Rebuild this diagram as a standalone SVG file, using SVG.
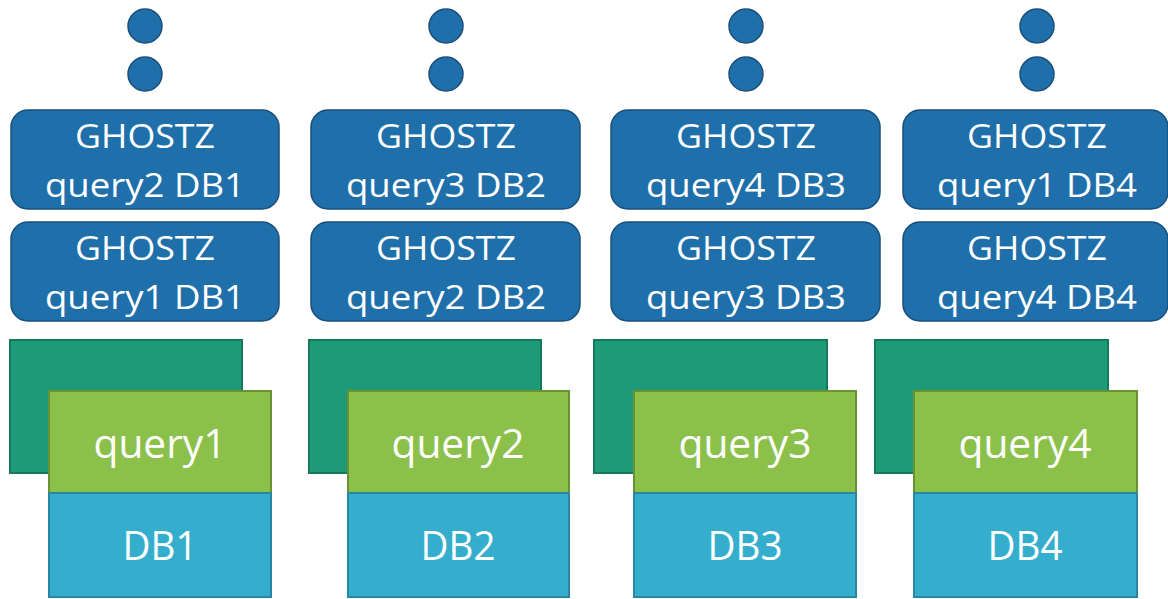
<svg xmlns="http://www.w3.org/2000/svg" width="1168" height="599" viewBox="0 0 1168 599">
<style>
.dot{fill:#1f6faa;stroke:#1b4f7b;stroke-width:1.5}
.gb{fill:#1f6faa;stroke:#1b4f7b;stroke-width:1.5}
.dg{fill:#1e9a78;stroke:#147a5b;stroke-width:2}
.lg{fill:#8bc14a;stroke:#6a9232;stroke-width:2}
.db{fill:#35aecd;stroke:#2a87a2;stroke-width:2}
text{font-family:"Open Sans","Noto Sans",sans-serif;fill:#ffffff;text-anchor:middle}
.t1{font-size:32px}
.t2{font-size:41px}
.t3{font-size:40px}
</style>
<rect width="1168" height="599" fill="#ffffff"/>
<g id="col1">
<circle class="dot" cx="145" cy="26" r="17"/>
<circle class="dot" cx="145" cy="74" r="17"/>
<g id="g1a"><rect class="gb" x="11" y="110" width="268" height="99" rx="17"/>
<text class="t1" x="145" y="148" textLength="140" lengthAdjust="spacingAndGlyphs">GHOSTZ</text>
<text class="t1" x="145" y="197" textLength="200" lengthAdjust="spacingAndGlyphs">query2 DB1</text></g>
<g id="g1b"><rect class="gb" x="11" y="222" width="268" height="99" rx="17"/>
<text class="t1" x="145" y="260" textLength="140" lengthAdjust="spacingAndGlyphs">GHOSTZ</text>
<text class="t1" x="145" y="309" textLength="200" lengthAdjust="spacingAndGlyphs">query1 DB1</text></g>
<rect class="dg" x="10" y="340" width="232" height="133"/>
<g id="q1"><rect class="lg" x="49" y="391" width="222" height="102"/>
<text class="t2" x="160" y="458" textLength="133" lengthAdjust="spacingAndGlyphs">query1</text></g>
<g id="db1"><rect class="db" x="49" y="493" width="222" height="104"/>
<text class="t3" x="160" y="560" textLength="75" lengthAdjust="spacingAndGlyphs">DB1</text></g>
</g>
<g id="col2">
<circle class="dot" cx="446" cy="26" r="17"/>
<circle class="dot" cx="446" cy="74" r="17"/>
<g id="g2a"><rect class="gb" x="311" y="110" width="269" height="99" rx="17"/>
<text class="t1" x="446" y="148" textLength="140" lengthAdjust="spacingAndGlyphs">GHOSTZ</text>
<text class="t1" x="446" y="197" textLength="200" lengthAdjust="spacingAndGlyphs">query3 DB2</text></g>
<g id="g2b"><rect class="gb" x="311" y="222" width="269" height="99" rx="17"/>
<text class="t1" x="446" y="260" textLength="140" lengthAdjust="spacingAndGlyphs">GHOSTZ</text>
<text class="t1" x="446" y="309" textLength="200" lengthAdjust="spacingAndGlyphs">query2 DB2</text></g>
<rect class="dg" x="309" y="340" width="232" height="133"/>
<g id="q2"><rect class="lg" x="348" y="391" width="221" height="102"/>
<text class="t2" x="458" y="458" textLength="133" lengthAdjust="spacingAndGlyphs">query2</text></g>
<g id="db2"><rect class="db" x="348" y="493" width="221" height="104"/>
<text class="t3" x="458" y="560" textLength="75" lengthAdjust="spacingAndGlyphs">DB2</text></g>
</g>
<g id="col3">
<circle class="dot" cx="746" cy="26" r="17"/>
<circle class="dot" cx="746" cy="74" r="17"/>
<g id="g3a"><rect class="gb" x="611" y="110" width="269" height="99" rx="17"/>
<text class="t1" x="746" y="148" textLength="140" lengthAdjust="spacingAndGlyphs">GHOSTZ</text>
<text class="t1" x="746" y="197" textLength="200" lengthAdjust="spacingAndGlyphs">query4 DB3</text></g>
<g id="g3b"><rect class="gb" x="611" y="222" width="269" height="99" rx="17"/>
<text class="t1" x="746" y="260" textLength="140" lengthAdjust="spacingAndGlyphs">GHOSTZ</text>
<text class="t1" x="746" y="309" textLength="200" lengthAdjust="spacingAndGlyphs">query3 DB3</text></g>
<rect class="dg" x="594" y="340" width="233" height="133"/>
<g id="q3"><rect class="lg" x="634" y="391" width="222" height="102"/>
<text class="t2" x="745" y="458" textLength="133" lengthAdjust="spacingAndGlyphs">query3</text></g>
<g id="db3"><rect class="db" x="634" y="493" width="222" height="104"/>
<text class="t3" x="745" y="560" textLength="75" lengthAdjust="spacingAndGlyphs">DB3</text></g>
</g>
<g id="col4">
<circle class="dot" cx="1037" cy="26" r="17"/>
<circle class="dot" cx="1037" cy="74" r="17"/>
<g id="g4a"><rect class="gb" x="903" y="110" width="265" height="99" rx="17"/>
<text class="t1" x="1037" y="148" textLength="140" lengthAdjust="spacingAndGlyphs">GHOSTZ</text>
<text class="t1" x="1037" y="197" textLength="200" lengthAdjust="spacingAndGlyphs">query1 DB4</text></g>
<g id="g4b"><rect class="gb" x="903" y="222" width="265" height="99" rx="17"/>
<text class="t1" x="1037" y="260" textLength="140" lengthAdjust="spacingAndGlyphs">GHOSTZ</text>
<text class="t1" x="1037" y="309" textLength="200" lengthAdjust="spacingAndGlyphs">query4 DB4</text></g>
<rect class="dg" x="875" y="340" width="233" height="133"/>
<g id="q4"><rect class="lg" x="914" y="391" width="223" height="102"/>
<text class="t2" x="1025" y="458" textLength="133" lengthAdjust="spacingAndGlyphs">query4</text></g>
<g id="db4"><rect class="db" x="914" y="493" width="223" height="104"/>
<text class="t3" x="1025" y="560" textLength="75" lengthAdjust="spacingAndGlyphs">DB4</text></g>
</g>
<g id="connectors"></g>
</svg>
